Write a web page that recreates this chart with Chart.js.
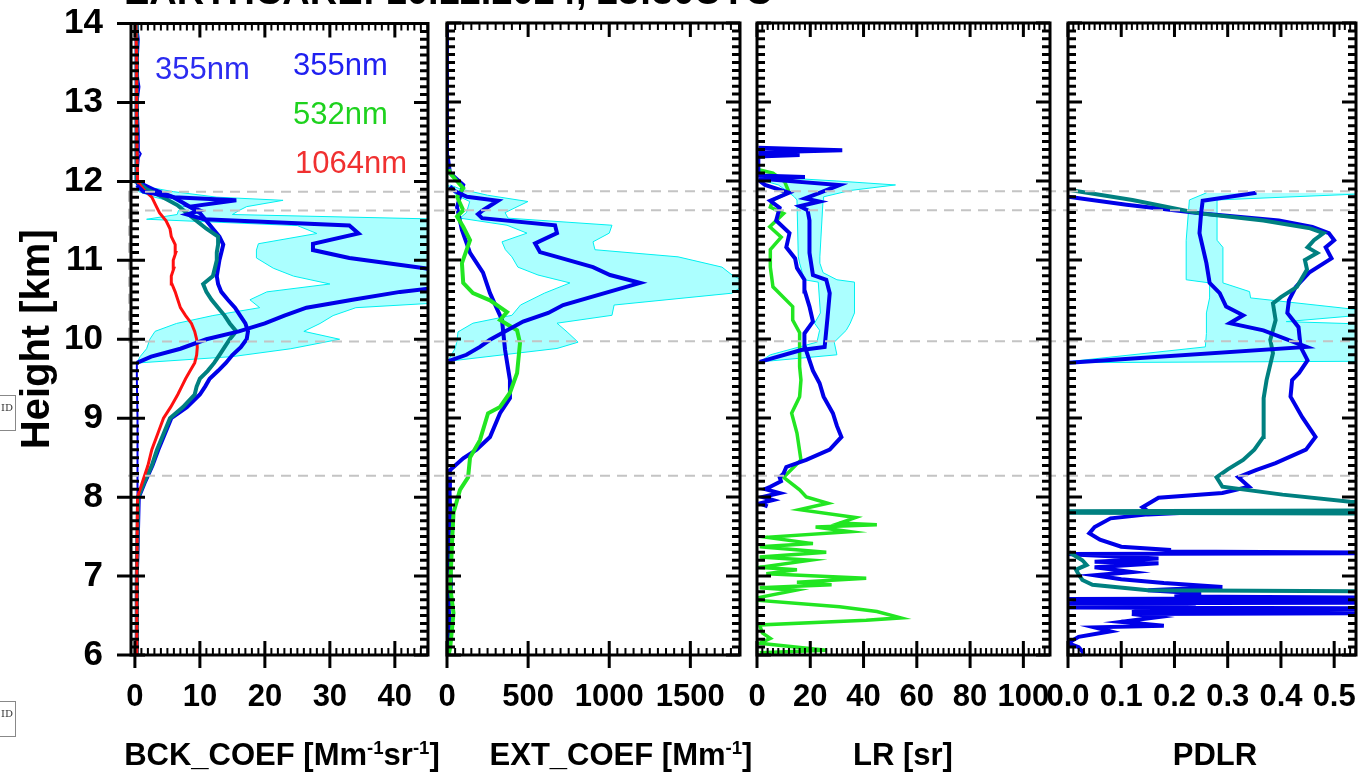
<!DOCTYPE html>
<html>
<head>
<meta charset="utf-8">
<title>EarthCARE profiles</title>
<script src="https://cdn.jsdelivr.net/npm/chart.js@4.4.1/dist/chart.umd.min.js"></script>
<style>
  body { margin: 0; background: #fff; }
  #wrap { position: relative; width: 1358px; height: 778px; overflow: hidden;
          font-family: "Liberation Sans", Arial, sans-serif; }
  canvas { position: absolute; top: 0; }
  .txt { position: absolute; white-space: nowrap; }
  .axt { position: absolute; white-space: nowrap; font-weight: bold; font-size: 31px;
         line-height: 31px; top: 739px; transform: translateX(-50%); }
  .axt sup { font-size: 0.6em; line-height: 0; }
  .nm { position: absolute; white-space: nowrap; font-size: 31px; line-height: 31px; }
  .idbox { position: absolute; left: -19px; width: 35px; height: 36px; border: 1px solid #888;
           font: 10px "DejaVu Serif", serif; text-align: right; box-sizing: border-box;
           padding: 6px 2px 0 0; color: #333; }
</style>
</head>
<body>
<div id="wrap">
  <canvas id="cBck" width="460" height="778" style="left:0px"></canvas>
  <canvas id="cExt" width="380" height="778" style="left:400px"></canvas>
  <canvas id="cLr" width="380" height="778" style="left:710px"></canvas>
  <canvas id="cPdlr" width="360" height="778" style="left:1020px"></canvas>

  <div class="txt" style="left:124px; top:-28px; font-weight:bold; font-size:38px; line-height:38px;">EARTHCARE: 10.12.2024, 23:30UTC</div>

  <div class="nm" style="left:155px; top:53px; color:#2b2bf0;">355nm</div>
  <div class="nm" style="left:293px; top:49px; color:#2020f0;">355nm</div>
  <div class="nm" style="left:293px; top:98px; color:#1ed21e;">532nm</div>
  <div class="nm" style="left:295px; top:147px; color:#f03030;">1064nm</div>

  <div class="axt" style="left:282px;">BCK_COEF [Mm<sup>-1</sup>sr<sup>-1</sup>]</div>
  <div class="axt" style="left:621px;">EXT_COEF [Mm<sup>-1</sup>]</div>
  <div class="axt" style="left:903px;">LR [sr]</div>
  <div class="axt" style="left:1215px;">PDLR</div>

  <div class="idbox" style="top:395px;">ID</div>
  <div class="idbox" style="top:701px;">ID</div>
</div>

<script>
// cloud layer boundaries [km]
const layerHeights = [11.87, 11.63, 9.97, 8.27];

// tick labels
const heightTicks = [6, 7, 8, 9, 10, 11, 12, 13, 14];
const bckTicks = [0, 10, 20, 30, 40];
const extTicks = [0, 500, 1000, 1500];
const lrTicks = [0, 20, 40, 60, 80, 100];
const pdlrTicks = [0, 0.1, 0.2, 0.3, 0.4, 0.5];

// ---- panel 1: backscatter coefficient [Mm-1 sr-1] ----
// ground lidar, 355 / 532 / 1064 nm
const lidarBckH = [6.0, 7.0, 8.0, 8.2, 8.4, 8.6, 8.8, 9.0, 9.14, 9.3, 9.4, 9.5, 9.6, 9.7, 9.8, 9.9, 10.0, 10.1, 10.2, 10.3,
                   10.4, 10.5, 10.6, 10.7, 10.8, 10.9, 11.0, 11.1, 11.2, 11.3, 11.4, 11.5, 11.6, 11.7, 11.8, 11.9, 12.0, 12.5, 13.0, 13.5, 14.0];
const bck355 = [0.3, 0.3, 0.6, 1.6, 2.7, 3.6, 4.6, 5.6, 8.0, 10.0, 10.8, 11.5, 12.8, 14.0, 15.0, 16.3, 17.2, 17.4, 17.0, 16.2,
                15.4, 14.3, 13.3, 12.8, 12.6, 12.8, 13.0, 13.3, 13.6, 13.0, 12.0, 11.0, 10.0, 8.0, 5.9, 2.8, 0.3, 0.3, 0.3, 0.3, 0.2];
const bck532 = [0.3, 0.3, 0.5, 1.5, 2.6, 3.4, 4.4, 5.4, 7.4, 9.2, 9.5, 10.0, 11.2, 12.2, 13.0, 13.8, 14.6, 15.6, 14.6, 13.8,
                12.8, 11.8, 11.0, 10.5, 12.0, 12.3, 12.6, 12.6, 12.8, 12.8, 11.0, 9.5, 8.0, 6.5, 4.3, 1.8, 0.3, 0.3, 0.3, 0.3, 0.2];
const bck1064 = [0.3, 0.3, 0.4, 1.2, 2.0, 2.6, 3.5, 4.4, 5.5, 6.6, 7.2, 7.8, 8.5, 9.2, 9.5, 9.6, 9.5, 9.2, 8.7, 7.8,
                 7.0, 6.6, 6.2, 5.7, 5.6, 6.0, 5.9, 6.3, 6.2, 5.6, 5.4, 4.8, 3.8, 3.2, 2.6, 1.3, 0.4, 0.3, 0.3, 0.25, 0.15];
// ATLID 355 nm with uncertainty band
const atlidBckH = [9.70, 9.78, 9.88, 10.0, 10.1, 10.2, 10.3, 10.4, 10.5, 10.6, 10.7, 10.8, 10.9, 11.03, 11.13, 11.21,
                   11.34, 11.44, 11.52, 11.58, 11.63, 11.68, 11.76, 11.80, 11.87, 11.95];
const atlidBck = [0.3, 2.5, 7.0, 11.0, 16.0, 20.0, 23.0, 26.4, 33.5, 40.8, 52.0, 50.0, 44.6, 33.0, 27.4, 27.4,
                  34.4, 33.0, 10.6, 8.0, 10.0, 8.5, 15.6, 6.0, 1.3, 0.3];
const atlidBckLo = [0.3, 0.8, 1.8, 2.3, 3.1, 6.4, 12.0, 19.2, 17.7, 20.3, 30.0, 24.4, 21.3, 18.7, 18.7, 19.0,
                    28.0, 25.0, 1.8, 6.5, 6.7, 7.5, 5.0, 3.0, 0.6, 0.2];
const atlidBckHi = [0.5, 15.0, 24.0, 31.5, 26.0, 28.5, 30.5, 34.0, 55.0, 60.0, 70.0, 65.0, 60.0, 52.0, 50.0, 47.0,
                    50.0, 50.0, 48.0, 15.0, 16.0, 17.2, 22.8, 12.6, 5.9, 0.5];
// ATLID outside the cloud (null = inside the cloud)
const atlidBckBgH = [6.0, 6.5, 7.0, 7.5, 8.0, 8.5, 9.0, 9.5, 9.7, 9.71, 11.95, 12.1, 12.3, 12.35, 12.4, 12.6, 13.0, 13.2, 13.3, 13.5, 13.8, 14.0];
const atlidBckBg = [0.4, 0.3, 0.45, 0.3, 0.4, 0.35, 0.45, 0.3, 0.3, null, 0.3, 0.4, 0.6, 0.9, 0.5, 0.6, 0.4, 0.7, 0.5, 0.4, 0.6, 0.3];

// ---- panel 2: extinction coefficient [Mm-1] ----
const ext355H = [6.0, 6.3, 6.6, 6.9, 7.2, 7.5, 7.8, 8.1, 8.34, 8.49, 8.6, 8.76, 9.06, 9.25, 9.48, 9.86, 10.24, 10.58, 10.84, 11.09,
                 11.38, 11.67, 11.95, 12.1, 12.3, 14.0];
const ext355 = [5, 20, 10, 25, 15, 10, 20, 15, 18, 100, 182, 265, 327, 388, 388, 358, 339, 265, 222, 142, 92, 62, 100, 18, 5, 0];
const ext532H = [6.0, 6.1, 6.53, 6.86, 7.37, 7.8, 8.09, 8.25, 8.5, 8.72, 9.06, 9.14, 9.32, 9.57, 9.95, 10.11, 10.24, 10.34, 10.49, 10.58,
                 10.71, 10.96, 11.25, 11.42, 11.55, 11.63, 11.8, 11.91, 12.1, 12.15];
const ext532 = [10, 20, 40, 20, 30, 40, 80, 130, 142, 203, 253, 327, 388, 432, 450, 432, 327, 370, 265, 160,
                100, 92, 142, 100, 62, 100, 62, 100, 18, 10];
const atlidExtH = [9.72, 9.80, 9.90, 9.99, 10.22, 10.33, 10.43, 10.71, 10.81, 10.91, 11.04, 11.10, 11.21, 11.34, 11.44,
                   11.53, 11.58, 11.63, 11.75, 11.80, 11.87, 11.93];
const atlidExt = [8, 120, 203, 265, 469, 624, 716, 1190, 1005, 900, 678, 573, 543, 678, 666, 216, 191, 222, 314, 123, 50, 18];
const extBandH = [9.72, 9.88, 9.96, 10.09, 10.20, 10.30, 10.43, 10.58, 10.71, 10.81, 10.91, 11.04, 11.13, 11.23, 11.34,
                  11.44, 11.53, 11.60, 11.74, 11.82, 11.90, 11.95];
const extBandLo = [5, 50, 60, 68, 160, 400, 453, 600, 758, 561, 437, 400, 360, 339, 493, 370, 80, 120, 140, 60, 20, 5];
const extBandHi = [15, 678, 808, 740, 678, 1017, 1030, 1757, 1850, 1757, 1695, 1424, 912, 900, 1000, 1017, 376, 358, 499, 250, 80, 20];

// ---- panel 3: lidar ratio [sr] ----
const lr355H = [7.88, 7.92, 7.96, 8.0, 8.05, 8.1, 8.13, 8.2, 8.25, 8.3, 8.38, 8.47, 8.6, 8.76, 8.9, 9.06, 9.27, 9.44, 9.6, 9.73,
                9.9, 10.07, 10.22, 10.41, 10.6, 10.75, 10.9, 11.02, 11.16, 11.34, 11.5, 11.66, 11.75, 11.85, 11.95, 12.0];
const lr355 = [4, 1, 6, 2, 8.5, 3, 5, 9, 8.5, 10, 11, 18.5, 27.3, 31.7, 30, 28.5, 25, 23.5, 21, 19.7,
               18, 17.8, 21, 19.7, 18, 17.8, 15, 14.3, 11, 12.2, 7.2, 8.5, 5, 12, 3, 1];
const lr532H = [6.03, 6.06, 6.15, 6.21, 6.28, 6.38, 6.44, 6.47, 6.55, 6.61, 6.69, 6.73, 6.82, 6.85, 6.89, 6.92, 6.97, 7.03, 7.08, 7.11,
                7.2, 7.24, 7.3, 7.37, 7.41, 7.49, 7.56, 7.62, 7.65, 7.67, 7.74, 7.84, 7.92, 8.0, 8.09, 8.25, 8.47, 8.81, 9.06, 9.27,
                9.48, 9.65, 10.08, 10.24, 10.41, 10.66, 10.91, 11.13, 11.29, 11.42, 11.59, 11.67, 11.76, 11.86, 11.99, 12.1, 12.14];
const lr532 = [1, 26, 1, 5, 2, 1, 41, 54, 45, 31, 1, 1, 14.6, 1, 28, 15, 41, 3.5, 15, 1,
               20, 1, 26, 1, 21, 3.5, 35, 22, 45, 31, 37, 16, 26.6, 18.5, 16, 10, 16.5, 15, 13, 16,
               16.5, 16, 16, 13.4, 13.4, 6, 5, 5, 9.1, 4.8, 10, 5, 6, 12, 10.4, 6, 1];
const atlidLrH = [9.71, 9.86, 9.90, 10.28, 10.58, 10.75, 10.81, 11.09, 11.34, 11.50, 11.63, 11.68, 11.74, 11.78, 11.85, 11.95,
                  12.03, 12.05, 12.07, 12.31, 12.33, 12.36, 12.39, 12.42];
const atlidLr = [1, 16.6, 25.4, 26.5, 27.3, 26, 21, 19.7, 19.7, 19.7, 19, 16, 23.5, 18, 23.5, 31, 0.5, 18, 0.5, 0.5, 16, 0.5, 32, 0.5];
const lrBandH = [9.71, 9.80, 9.96, 10.11, 10.20, 10.33, 10.72, 10.75, 10.84, 10.96, 11.04, 11.76, 11.80, 11.88, 11.95, 12.0, 12.05];
const lrBandLo = [1, 5, 22.5, 23.5, 21.6, 23.8, 23, 17.8, 17, 16, 15.5, 15, 14, 11, 8, 3, 1];
const lrBandHi = [1, 30, 29, 33.5, 35, 36.6, 36.6, 30, 24.8, 23.6, 23.6, 24.8, 25, 35, 52, 30, 5];

// ---- panel 4: particle depolarization ratio ----
const pdlr355H = [6.02, 6.10, 6.15, 6.23, 6.30, 6.35, 6.37, 6.42, 6.48, 6.52, 6.53, 6.545, 6.56, 6.59, 6.60, 6.62, 6.65, 6.655, 6.665, 6.68,
                  6.71, 6.72, 6.74, 6.78, 6.82, 6.86, 6.91, 6.96, 7.01, 7.05, 7.11, 7.16, 7.18, 7.22, 7.27, 7.28, 7.29, 7.31, 7.33, 7.37,
                  7.46, 7.54, 7.62, 7.73, 7.78, 7.80, 7.82, 7.87, 7.99, 8.05, 8.13, 8.25, 8.34, 8.43, 8.60, 8.76, 9.01, 9.27, 9.48, 9.57,
                  9.73, 9.90, 10.15, 10.33, 10.49, 10.66, 10.84, 11.02, 11.16, 11.25, 11.34, 11.42, 11.50, 11.59, 11.70, 11.80];
const pdlr355 = [0.03, 0.02, 0.0, 0.02, 0.08, 0.05, 0.18, 0.10, 0.17, 0.12, 0.7, 0.12, 0.15, 0.7, 0.0, 0.10, 0.24, 0.0, 0.7, 0.10,
                 0.0, 0.7, 0.20, 0.25, 0.15, 0.29, 0.18, 0.10, 0.05, 0.12, 0.05, 0.17, 0.05, 0.17, 0.02, 0.0, 0.7, 0.19, 0.19, 0.10,
                 0.06, 0.04, 0.05, 0.08, 0.15, 0.22, 0.15, 0.14, 0.17, 0.29, 0.34, 0.32, 0.353, 0.39, 0.447, 0.465, 0.44, 0.418, 0.421, 0.434,
                 0.45, 0.437, 0.433, 0.412, 0.415, 0.428, 0.453, 0.495, 0.484, 0.50, 0.49, 0.459, 0.396, 0.252, 0.11, 0.0];
const pdlr532H = [6.80, 6.82, 6.89, 6.95, 7.02, 7.08, 7.14, 7.2, 7.3, 7.31, 7.79, 7.80, 7.81, 7.82, 7.83, 7.90, 7.94, 8.03, 8.13, 8.25,
                  8.35, 8.47, 8.6, 8.76, 9.06, 9.25, 9.48, 9.82, 9.99, 10.24, 10.45, 10.53, 10.66, 10.88, 11.0, 11.09, 11.16, 11.25, 11.34, 11.4,
                  11.5, 11.59, 11.76, 11.89];
const pdlr532 = [0.7, 0.15, 0.046, 0.027, 0.02, 0.015, 0.035, 0.027, 0.002, null, 0.7, 0, 0.7, 0, 0.7, 0.7, 0.53, 0.403, 0.29, 0.279,
                 0.3, 0.329, 0.35, 0.367, 0.367, 0.368, 0.373, 0.385, 0.38, 0.39, 0.385, 0.4, 0.43, 0.449, 0.445, 0.468, 0.45, 0.462, 0.48, 0.455,
                 0.367, 0.247, 0.121, 0.0];
const atlidPdlrH = [9.70, 9.90, 10.11, 10.20, 10.30, 10.41, 10.58, 10.71, 10.96, 11.34, 11.59, 11.75, 11.85];
const atlidPdlr = [0.002, 0.448, 0.367, 0.304, 0.329, 0.297, 0.285, 0.266, 0.26, 0.247, 0.25, 0.253, 0.354];
const pdlrBandH = [9.70, 9.72, 9.90, 10.07, 10.18, 10.22, 10.33, 10.52, 10.60, 10.71, 10.75, 11.16, 11.25, 11.76, 11.85];
const pdlrBandLo = [0.002, 0.01, 0.258, 0.26, 0.26, 0.26, 0.26, 0.266, 0.266, 0.266, 0.222, 0.222, 0.222, 0.228, 0.26];
const pdlrBandHi = [0.002, 0.6, 0.6, 0.6, 0.6, 0.41, 0.6, 0.343, 0.341, 0.291, 0.291, 0.291, 0.28, 0.28, 0.6];

const FONT = '"Liberation Sans", Arial, sans-serif';
const BLUE = '#0000e8';
const TEAL = '#008080';
const RED = '#ff1010';
const GREEN = '#22e622';
const CYAN = '#00f0f0';
const CYAN_FILL = 'rgba(0,255,255,0.33)';

function profile(hs, vs, color, width, extra) {
  return Object.assign({
    data: hs.map((h, i) => ({x: vs[i], y: h})),
    borderColor: color,
    borderWidth: width,
    pointRadius: 0,
    tension: 0,
    fill: false
  }, extra || {});
}

// lower edge then upper edge filled down to it
function band(hs, lo, hi) {
  return [
    profile(hs, lo, CYAN, 1),
    profile(hs, hi, CYAN, 1, {fill: '-1', backgroundColor: CYAN_FILL})
  ];
}

const fixTicks = list => s => { s.ticks = list.map(v => ({value: v})); };

// frame, inward major/minor ticks and the dashed layer lines
const frameTicks = {
  id: 'frameTicks',
  afterDatasetsDraw(chart, args, o) {
    const {ctx, chartArea: a} = chart;
    const x = chart.scales.x, y = chart.scales.y;
    ctx.save();

    ctx.strokeStyle = '#c4c4c4';
    ctx.lineWidth = 2;
    ctx.setLineDash([10, 7]);
    ctx.beginPath();
    layerHeights.forEach(h => {
      const py = y.getPixelForValue(h);
      ctx.moveTo(a.left - o.dashLeft, py);
      ctx.lineTo(a.right + o.dashRight, py);
    });
    if (o.boxEdge) {
      ctx.moveTo(a.left - 2, y.getPixelForValue(layerHeights[0]));
      ctx.lineTo(a.left - 2, y.getPixelForValue(layerHeights[2]));
    }
    ctx.stroke();
    ctx.setLineDash([]);

    const each = (sc, step, fn) => {
      for (let i = Math.ceil(sc.min / step - 1e-9); i * step <= sc.max + 1e-9; i++) {
        fn(sc.getPixelForValue(i * step), i);
      }
    };
    ctx.strokeStyle = '#000';

    // minor ticks
    ctx.lineWidth = 2;
    ctx.beginPath();
    each(x, o.xMinor, px => {
      ctx.moveTo(px, a.bottom); ctx.lineTo(px, a.bottom - 7);
      ctx.moveTo(px, a.top); ctx.lineTo(px, a.top + 7);
    });
    ctx.stroke();
    ctx.lineWidth = 3;
    ctx.beginPath();
    each(y, 0.1, (py, i) => {
      if (i % 10 === 0) return;
      ctx.moveTo(a.left, py); ctx.lineTo(a.left + 8, py);
      ctx.moveTo(a.right, py); ctx.lineTo(a.right - 8, py);
    });
    ctx.stroke();

    // major ticks
    ctx.beginPath();
    o.xTicks.forEach(v => {
      const px = x.getPixelForValue(v);
      ctx.moveTo(px, a.bottom + 13); ctx.lineTo(px, a.bottom - 14);
      ctx.moveTo(px, a.top); ctx.lineTo(px, a.top + 14);
    });
    heightTicks.forEach(v => {
      const py = y.getPixelForValue(v);
      ctx.moveTo(a.left - (o.outLeft ? 14 : 0), py); ctx.lineTo(a.left + 14, py);
      ctx.moveTo(a.right, py); ctx.lineTo(a.right - 14, py);
    });
    ctx.stroke();

    ctx.strokeRect(a.left, a.top, a.right - a.left, a.bottom - a.top);
    ctx.restore();
  }
};

function panel(canvasId, datasets, o) {
  const first = o.outLeft;
  return new Chart(document.getElementById(canvasId), {
    type: 'line',
    data: {datasets},
    options: {
      indexAxis: 'y',
      responsive: false,
      animation: false,
      devicePixelRatio: 1,
      events: [],
      layout: {padding: {left: o.padLeft, right: o.padRight, top: 23, bottom: 0}},
      plugins: {legend: {display: false}, tooltip: {enabled: false}, frameTicks: o},
      scales: {
        x: {
          type: 'linear', position: 'bottom', min: o.xMin, max: o.xMax,
          grid: {display: false, drawTicks: true, tickLength: 27},
          border: {display: false},
          afterBuildTicks: fixTicks(o.xTicks),
          ticks: {autoSkip: false, maxRotation: 0, padding: 0,
                  color: '#000', font: {family: FONT, size: 31, weight: 'bold', lineHeight: 1},
                  callback: o.fmt},
          afterFit: s => { s.height = 778 - 655; }
        },
        y: first ? {
          type: 'linear', position: 'left', min: 6, max: 14,
          grid: {display: false, drawTicks: true, tickLength: 22},
          border: {display: false},
          afterBuildTicks: fixTicks(heightTicks),
          ticks: {padding: 6, color: '#000',
                  font: {family: FONT, size: 35, weight: 'bold', lineHeight: 1}},
          title: {display: true, text: 'Height [km]', color: '#000', padding: {top: 14, bottom: 0},
                  font: {family: FONT, size: 40, weight: 'bold'}},
          afterFit: s => { s.width = 131; }
        } : {
          type: 'linear', display: false, min: 6, max: 14
        }
      }
    },
    plugins: [frameTicks]
  });
}

const intLabel = v => String(v);

panel('cBck', [
  profile(atlidBckH, atlidBck, BLUE, 4),
  profile(lidarBckH, bck1064, RED, 3),
  profile(lidarBckH, bck532, TEAL, 4),
  profile(lidarBckH, bck355, BLUE, 4),
  profile(atlidBckBgH, atlidBckBg, BLUE, 2),
  ...band(atlidBckH, atlidBckLo, atlidBckHi)
], {padLeft: 0, padRight: 460 - 428, xMin: -0.6, xMax: 45.1, xTicks: bckTicks, xMinor: 1, fmt: intLabel,
    outLeft: true, dashLeft: 3, dashRight: 19, boxEdge: true});

panel('cExt', [
  profile(atlidExtH, atlidExt, BLUE, 4),
  profile(ext532H, ext532, GREEN, 4),
  profile(ext355H, ext355, BLUE, 4),
  ...band(extBandH, extBandLo, extBandHi)
], {padLeft: 47, padRight: 780 - 740, xMin: 0, xMax: 1806, xTicks: extTicks, xMinor: 50, fmt: intLabel,
    outLeft: false, dashLeft: 0, dashRight: 17});

panel('cLr', [
  profile(atlidLrH, atlidLr, BLUE, 4),
  profile(lr355H, lr355, BLUE, 4),
  profile(lr532H, lr532, GREEN, 3.5),
  ...band(lrBandH, lrBandLo, lrBandHi)
], {padLeft: 47, padRight: 1090 - 1050, xMin: 0, xMax: 110, xTicks: lrTicks, xMinor: 2, fmt: intLabel,
    outLeft: false, dashLeft: 0, dashRight: 18});

panel('cPdlr', [
  profile(atlidPdlrH, atlidPdlr, BLUE, 4),
  profile(pdlr532H, pdlr532, TEAL, 4),
  profile(pdlr355H, pdlr355, BLUE, 4),
  ...band(pdlrBandH, pdlrBandLo, pdlrBandHi)
], {padLeft: 48, padRight: 1380 - 1356, xMin: 0, xMax: 0.541, xTicks: pdlrTicks, xMinor: 0.01, fmt: v => v.toFixed(1),
    outLeft: false, dashLeft: 0, dashRight: 4});
</script>
</body>
</html>
